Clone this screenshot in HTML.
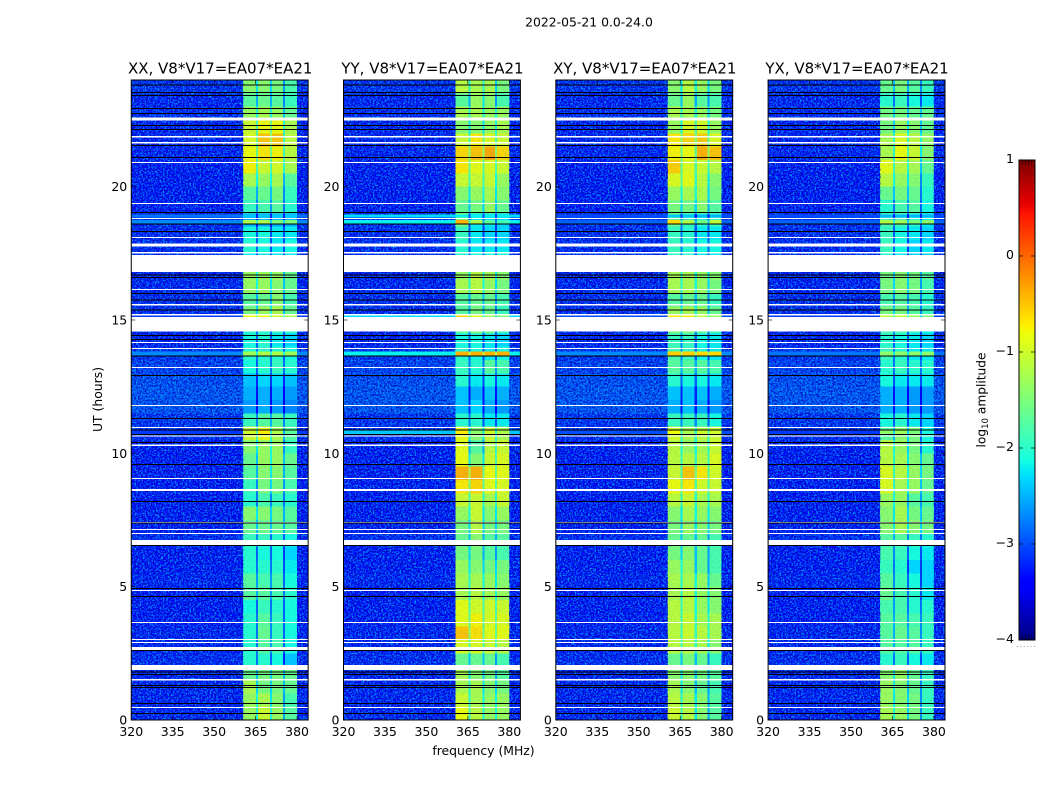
<!DOCTYPE html>
<html lang="en">
<head>
<meta charset="utf-8">
<title>2022-05-21 0.0-24.0</title>
<style>
html,body{margin:0;padding:0;background:#fff;width:1050px;height:800px;overflow:hidden}
svg{display:block}
text{font-family:"DejaVu Sans","Liberation Sans",sans-serif;fill:#000}
.tick{font-size:12.5px}
.title{font-size:15px}
</style>
</head>
<body>
<svg id="chart" xmlns="http://www.w3.org/2000/svg" width="1050" height="800" viewBox="0 0 1050 800">
<defs>
<filter id="speckle" x="0" y="0" width="100%" height="100%" color-interpolation-filters="sRGB">
<feTurbulence type="fractalNoise" baseFrequency="0.6" numOctaves="2" seed="4"/>
<feColorMatrix values="0 0 0 0 0  0 0 0 0 0.66  0 0 0 0 1  5.5 0 0 0 -2.5"/>
</filter>
<filter id="speckle-dark" x="0" y="0" width="100%" height="100%" color-interpolation-filters="sRGB">
<feTurbulence type="fractalNoise" baseFrequency="0.55" numOctaves="2" seed="11"/>
<feColorMatrix values="0 0 0 0 0  0 0 0 0 0  0 0 0 0 0.7  5.5 0 0 0 -2.5"/>
</filter>
</defs>
<text x="589" y="26.5" text-anchor="middle" font-size="12.4">2022-05-21 0.0-24.0</text>
<text x="483.5" y="755" text-anchor="middle" font-size="12.4">frequency (MHz)</text>
<text transform="translate(102 399.5) rotate(-90)" text-anchor="middle" font-size="12.4">UT (hours)</text>
<text transform="translate(985.5 400) rotate(-90)" text-anchor="middle" font-size="12.2">log<tspan font-size="8.6" dy="2.5">10</tspan><tspan dy="-2.5"> amplitude</tspan></text>
</svg>
<script>
// Chart data: log10 amplitude, time in hours (UT), frequency in MHz
const panelTitles = ['XX, V8*V17=EA07*EA21', 'YY, V8*V17=EA07*EA21', 'XY, V8*V17=EA07*EA21', 'YX, V8*V17=EA07*EA21'];
const xTickValues = [320, 335, 350, 365, 380];
const yTickValues = [0, 5, 10, 15, 20];
const colorbarTickValues = [1, 0, -1, -2, -3, -4];
const colorbarTickLabels = ['1', '0', '\u22121', '\u22122', '\u22123', '\u22124'];
const channelEdges = [320, 360.5, 365.2, 365.9, 370.2, 371, 374.9, 375.6, 380, 384];
const rowHours = 0.5;
const notchDrop = -0.8;

// One value per half-hour row, from 24 h down to 0 h
const backgroundLevels = [-3.2,-3.3,-3.25,-3.3,-3.3,-3.3,-3.35,-3.35,-3.35,-3.35,-3.25,-3.25,-3.25,-3.25,-3.3,-3.3,-3.25,-3.25,-3.3,-3.3,-3.2,-3.1,-3.0,-2.95,-2.95,-3.2,-3.25,-3.35,-3.35,-3.35,-3.35,-3.35,-3.35,-3.35,-3.25,-3.35,-3.35,-3.3,-3.35,-3.35,-3.35,-3.3,-3.3,-3.25,-3.3,-3.3,-3.3,-3.3];

const bandsXX = [[-1.4,-1.4,-1.5,-1.8],[-1.7,-1.6,-1.7,-1.9],[-1.3,-1.2,-1.3,-1.6],[-1.0,-0.8,-0.8,-1.2],[-0.9,-0.5,-0.5,-1.1],[-0.8,-0.7,-0.75,-1.1],[-0.75,-1.0,-0.95,-1.2],[-1.2,-1.3,-1.2,-1.7],[-1.7,-1.6,-1.5,-1.9],[-1.9,-1.8,-1.7,-2.0],[-2.5,-2.5,-2.5,-2.5],[-2.1,-2.1,-2.2,-2.2],[-2.0,-2.1,-2.2,-2.1],[-2.2,-2.2,-2.2,-2.2],[-1.3,-1.3,-1.3,-1.6],[-1.3,-1.3,-1.4,-1.6],[-1.7,-1.6,-1.4,-1.8],[-1.5,-1.3,-1.2,-1.6],[-2.0,-2.0,-2.0,-2.0],[-2.1,-2.0,-2.2,-2.3],[-2.0,-2.0,-2.0,-2.1],[-2.1,-2.0,-1.9,-2.0],[-2.4,-2.3,-2.3,-2.4],[-2.5,-2.5,-2.5,-2.6],[-2.6,-2.5,-2.6,-2.7],[-1.9,-1.7,-1.7,-1.9],[-1.0,-0.8,-1.2,-1.7],[-1.4,-1.3,-1.3,-1.9],[-1.6,-1.3,-1.3,-1.6],[-1.7,-1.4,-1.4,-1.7],[-1.9,-1.5,-1.5,-1.8],[-2.0,-1.8,-1.9,-2.0],[-1.4,-1.4,-1.5,-1.7],[-1.6,-1.6,-1.6,-1.7],[-1.9,-1.9,-2.0,-2.1],[-2.0,-2.1,-2.1,-2.3],[-2.0,-2.0,-2.0,-2.2],[-1.7,-1.8,-1.8,-2.1],[-1.7,-1.7,-1.8,-2.0],[-2.1,-1.9,-2.0,-2.1],[-2.0,-1.7,-1.9,-2.1],[-2.0,-1.6,-1.9,-2.1],[-2.0,-1.7,-1.8,-2.1],[-2.0,-2.0,-2.1,-2.4],[-1.6,-1.5,-1.5,-1.6],[-1.2,-1.5,-1.5,-1.6],[-1.3,-1.2,-1.4,-1.8],[-1.3,-1.0,-1.3,-1.7]];
const bandsYY = [[-1.1,-1.2,-1.2,-1.5],[-1.7,-1.3,-1.4,-1.8],[-1.2,-1.2,-1.3,-1.3],[-1.4,-1.4,-1.3,-1.2],[-1.0,-0.7,-0.9,-1.0],[-0.6,-0.5,-0.35,-0.6],[-0.7,-0.85,-0.9,-1.0],[-1.0,-1.0,-1.0,-1.3],[-1.4,-1.3,-1.2,-1.4],[-1.6,-1.5,-1.3,-1.6],[-1.5,-2.2,-2.2,-2.3],[-1.9,-2.2,-2.3,-2.3],[-2.0,-2.2,-2.2,-2.2],[-2.1,-2.1,-2.1,-2.1],[-1.3,-1.1,-1.2,-1.4],[-1.2,-1.1,-1.3,-1.5],[-1.7,-1.6,-1.6,-1.8],[-1.7,-1.5,-1.6,-1.9],[-1.7,-1.5,-1.6,-1.9],[-2.1,-2.1,-2.2,-2.3],[-2.0,-2.1,-2.2,-2.1],[-1.9,-2.0,-1.7,-1.8],[-2.0,-2.2,-2.1,-2.2],[-2.4,-2.5,-2.4,-2.5],[-2.4,-2.3,-2.5,-2.6],[-2.0,-2.0,-2.2,-2.2],[-0.8,-1.4,-1.0,-1.2],[-0.85,-1.7,-1.1,-1.0],[-0.8,-1.4,-1.0,-0.9],[-0.4,-0.4,-0.8,-0.85],[-0.7,-0.6,-0.85,-0.9],[-1.0,-1.0,-1.2,-1.0],[-1.3,-1.0,-1.4,-1.3],[-1.5,-1.1,-1.5,-1.5],[-1.6,-1.4,-1.7,-1.7],[-1.5,-1.5,-1.7,-1.8],[-1.3,-1.4,-1.5,-1.5],[-1.2,-1.2,-1.3,-1.4],[-1.2,-1.1,-1.2,-1.3],[-0.85,-0.95,-0.95,-1.0],[-0.85,-0.75,-0.9,-0.9],[-0.5,-0.65,-0.85,-0.85],[-0.9,-0.9,-1.0,-1.1],[-1.6,-1.6,-1.6,-1.8],[-1.2,-1.4,-1.5,-1.7],[-1.2,-1.2,-1.4,-1.5],[-1.0,-1.2,-1.3,-1.3],[-0.8,-1.1,-1.3,-1.3]];
const bandsXY = [[-1.4,-1.1,-1.3,-1.5],[-1.6,-1.3,-1.7,-1.8],[-1.2,-1.2,-1.3,-1.5],[-1.3,-0.9,-0.95,-1.3],[-0.7,-0.6,-0.55,-0.9],[-0.75,-0.8,-0.4,-0.5],[-0.55,-0.9,-1.0,-1.1],[-0.9,-0.85,-1.1,-1.4],[-1.3,-1.2,-1.2,-1.5],[-1.5,-1.5,-1.4,-1.7],[-1.6,-1.9,-2.0,-1.9],[-1.9,-2.0,-2.2,-2.2],[-1.9,-2.0,-2.1,-2.1],[-2.0,-2.0,-2.2,-2.2],[-1.2,-1.2,-1.3,-1.4],[-1.2,-1.2,-1.3,-1.5],[-1.7,-1.6,-1.6,-1.9],[-1.3,-1.2,-1.3,-1.6],[-1.5,-1.5,-1.7,-1.9],[-1.9,-1.9,-2.1,-2.2],[-1.8,-1.9,-2.1,-2.2],[-1.7,-1.7,-1.7,-1.8],[-2.0,-2.1,-2.1,-2.2],[-2.4,-2.4,-2.4,-2.5],[-2.5,-2.4,-2.5,-2.6],[-1.9,-1.9,-1.9,-2.1],[-0.95,-1.2,-1.1,-1.0],[-1.1,-1.3,-1.2,-1.0],[-1.1,-1.1,-1.1,-0.9],[-1.0,-0.5,-0.7,-0.95],[-0.8,-0.7,-0.95,-1.0],[-1.1,-1.0,-1.2,-1.2],[-1.4,-1.2,-1.3,-1.4],[-1.5,-1.3,-1.4,-1.5],[-1.6,-1.6,-1.6,-1.8],[-1.5,-1.4,-1.6,-1.8],[-1.3,-1.3,-1.6,-1.8],[-1.2,-1.2,-1.3,-1.6],[-1.2,-1.1,-1.3,-1.4],[-1.1,-1.1,-1.3,-1.4],[-1.1,-1.0,-1.2,-1.2],[-1.1,-1.0,-1.1,-1.2],[-1.1,-1.1,-1.2,-1.4],[-1.6,-1.5,-1.6,-1.9],[-1.4,-1.4,-1.5,-1.7],[-1.2,-1.4,-1.6,-1.8],[-1.1,-1.2,-1.4,-1.7],[-1.0,-1.1,-1.4,-1.7]];
const bandsYX = [[-1.6,-1.5,-1.7,-1.9],[-2.0,-1.9,-2.1,-2.2],[-1.5,-1.5,-1.6,-1.6],[-1.5,-1.3,-1.4,-1.6],[-1.2,-0.9,-1.1,-1.3],[-1.2,-0.8,-1.0,-1.4],[-0.85,-1.1,-1.2,-1.6],[-1.1,-1.3,-1.4,-1.9],[-1.6,-1.5,-1.6,-2.0],[-2.0,-1.8,-1.7,-2.1],[-1.8,-1.8,-2.0,-2.2],[-1.9,-2.1,-2.2,-2.3],[-1.9,-2.1,-2.3,-2.2],[-2.1,-2.2,-2.3,-2.3],[-1.5,-1.4,-1.5,-1.7],[-1.5,-1.4,-1.5,-1.8],[-1.8,-1.7,-1.8,-2.0],[-1.5,-1.5,-1.7,-1.9],[-1.8,-1.8,-2.0,-2.2],[-2.0,-2.1,-2.2,-2.3],[-1.9,-2.0,-2.2,-2.2],[-2.0,-1.9,-2.0,-2.0],[-2.1,-2.2,-2.2,-2.2],[-2.5,-2.5,-2.6,-2.6],[-2.5,-2.5,-2.6,-2.6],[-2.1,-2.0,-2.2,-2.3],[-1.7,-1.4,-1.5,-2.1],[-1.1,-1.3,-1.5,-2.0],[-1.1,-1.2,-1.4,-1.6],[-0.9,-1.1,-1.3,-1.5],[-0.9,-1.2,-1.3,-1.6],[-1.3,-1.3,-1.7,-1.8],[-1.4,-1.2,-1.5,-1.6],[-1.4,-1.2,-1.4,-1.5],[-1.7,-1.7,-1.9,-2.0],[-1.8,-1.9,-2.1,-2.2],[-1.9,-2.0,-2.3,-2.3],[-1.7,-1.9,-2.1,-2.3],[-1.6,-1.8,-2.0,-2.2],[-1.8,-1.8,-2.0,-2.0],[-1.7,-1.7,-1.8,-1.9],[-1.7,-1.6,-1.7,-1.9],[-1.7,-1.7,-1.7,-1.9],[-2.0,-1.9,-2.1,-2.2],[-1.4,-1.3,-1.6,-1.9],[-1.3,-1.4,-1.6,-1.9],[-1.3,-1.4,-1.5,-1.9],[-1.2,-1.3,-1.5,-1.9]];

// Short bursts: [start hour, end hour]; background level per panel; band levels per panel
const burstSpans = [[18.84,18.96],[18.6,18.75],[13.675,13.81],[15.11,15.2],[10.7,10.875]];
const burstBackground = [[-2.8,-2.3,-3.0,-3.0],[-2.7,-2.2,-2.9,-2.9],[-2.7,-2.2,-2.7,-2.8],[-3.1,-2.3,-3.0,-3.1],[-3.1,-2.4,-3.0,-3.1]];
const burstBandsXX = [[-2.4,-2.4,-2.4,-2.4],[-1.2,-1.2,-1.5,-1.5],[-1.3,-1.2,-1.2,-1.3],[-0.8,-0.8,-1.0,-1.2],[-1.0,-0.7,-1.2,-1.7]];
const burstBandsYY = [[-2.2,-2.2,-2.2,-2.2],[-0.4,-1.2,-1.7,-1.9],[-0.4,-0.4,-0.4,-0.4],[-0.6,-0.9,-1.3,-1.5],[-0.7,-1.4,-1.0,-1.2]];
const burstBandsXY = [[-2.4,-2.4,-2.5,-2.5],[-0.6,-1.2,-1.6,-1.1],[-0.55,-0.55,-0.6,-0.6],[-0.7,-0.7,-1.0,-1.3],[-0.8,-1.2,-1.0,-1.0]];
const burstBandsYX = [[-2.5,-2.5,-2.5,-2.5],[-1.2,-1.3,-1.5,-1.4],[-1.4,-1.4,-1.4,-1.4],[-1.1,-1.1,-1.3,-1.5],[-1.4,-1.3,-1.5,-2.1]];

// Flagged data: missing (white) spans and dead (black) scans, in hours
const whiteSpans = [[22.48,22.59],[17.75,17.875],[16.8,17.44],[14.56,15.11],[8.59,8.66],[6.56,6.75],[2.625,2.74],[1.88,2.07]];
const whiteLines = [21.875,21.65,20.91,19.375,18.81,18.1,17.525,16.15,15.575,15.2,14.16,13.94,13.225,11.8,10.975,10.65,10.31,9.06,7.41,7.15,7.0,4.86,3.66,3.025,2.91,1.51,0.475];
const blackLines = [23.81,23.525,23.425,22.94,22.75,22.29,22.15,21.54,21.09,19.025,18.6,18.325,16.69,16.59,16.0,15.75,15.375,14.41,14.275,13.65,12.925,11.31,10.875,10.7,10.4,9.59,8.2,7.39,6.55,4.925,4.64,2.6,1.8,1.71,1.29,1.21,0.625,0.24];

const panelBands = [bandsXX, bandsYY, bandsXY, bandsYX];
const panelBursts = [burstBandsXX, burstBandsYY, burstBandsXY, burstBandsYX];

const NS = 'http://www.w3.org/2000/svg';
const svg = document.getElementById('chart');
const panelLefts = [131.25, 343.5, 555.8, 768.1];
const panelWidth = 176.9;
const plotTop = 80, plotBottom = 720;
const xMin = 320, xMax = 384, tMin = 0, tMax = 24;
const cbX = 1019, cbW = 16, cbTop = 160, cbBottom = 640, vMin = -4, vMax = 1;

function lerpTable(t, tbl) {
  for (let i = 1; i < tbl.length; i++) {
    if (t <= tbl[i][0]) {
      const a = tbl[i - 1], b = tbl[i];
      return a[1] + (b[1] - a[1]) * (t - a[0]) / (b[0] - a[0]);
    }
  }
  return tbl[tbl.length - 1][1];
}
const jetR = [[0,0],[0.35,0],[0.66,1],[0.89,1],[1,0.5]];
const jetG = [[0,0],[0.125,0],[0.375,1],[0.64,1],[0.91,0],[1,0]];
const jetB = [[0,0.5],[0.11,1],[0.34,1],[0.65,0],[1,0]];
function colorOf(v) {
  const t = Math.min(1, Math.max(0, (v - vMin) / (vMax - vMin)));
  return 'rgb(' + Math.round(255 * lerpTable(t, jetR)) + ',' + Math.round(255 * lerpTable(t, jetG)) + ',' + Math.round(255 * lerpTable(t, jetB)) + ')';
}
function yScale(h) { return plotBottom - (h - tMin) / (tMax - tMin) * (plotBottom - plotTop); }
function cbScale(v) { return cbBottom - (v - vMin) / (vMax - vMin) * (cbBottom - cbTop); }

function make(tag, parent, attrs) {
  const el = document.createElementNS(NS, tag);
  for (const k in attrs) el.setAttribute(k, attrs[k]);
  parent.appendChild(el);
  return el;
}
function channelLevel(col, bands, bg) {
  if (col === 0 || col === 8) return bg;
  if (col % 2 === 1) return bands[(col - 1) / 2];
  return Math.min(bands[col / 2 - 1], bands[col / 2]) + notchDrop;
}

function drawPanel(p) {
  const left = panelLefts[p];
  const xScale = f => left + (f - xMin) / (xMax - xMin) * panelWidth;
  const group = make('g', svg, {});
  
  

  const clipId = 'clip-' + p;
  const clip = make('clipPath', group, { id: clipId });
  make('rect', clip, { x: left, y: plotTop, width: panelWidth, height: plotBottom - plotTop });
  const plot = make('g', group, { 'clip-path': 'url(#' + clipId + ')', 'shape-rendering': 'crispEdges' });

  // heatmap cells
  panelBands[p].forEach((bands, r) => {
    const top = tMax - r * rowHours;
    const bottom = top - rowHours;
    for (let c = 0; c < channelEdges.length - 1; c++) {
      const cell = make('rect', plot, {
        x: xScale(channelEdges[c]),
        y: yScale(top),
        width: xScale(channelEdges[c + 1]) - xScale(channelEdges[c]) + 0.5,
        height: yScale(bottom) - yScale(top) + 0.5,
        fill: colorOf(channelLevel(c, bands, backgroundLevels[r]))
      });
      
      
    }
  });

  // receiver noise texture
  [['speckle', 0.85, 0.07], ['speckle-dark', 0.7, 0.05]].forEach(layer => {
    [[0, 1, layer[1]], [1, 8, layer[2]], [8, 9, layer[1]]].forEach(seg => {
      const noise = make('rect', plot, {
        x: xScale(channelEdges[seg[0]]),
        y: plotTop,
        width: xScale(channelEdges[seg[1]]) - xScale(channelEdges[seg[0]]),
        height: plotBottom - plotTop,
        filter: 'url(#' + layer[0] + ')',
        opacity: seg[2]
      });
      
      
    });
  });

  // bursts
  burstSpans.forEach((span, b) => {
    for (let c = 0; c < channelEdges.length - 1; c++) {
      const cell = make('rect', plot, {
        x: xScale(channelEdges[c]),
        y: yScale(span[1]),
        width: xScale(channelEdges[c + 1]) - xScale(channelEdges[c]) + 0.5,
        height: yScale(span[0]) - yScale(span[1]),
        fill: colorOf(channelLevel(c, panelBursts[p][b], burstBackground[b][p]))
      });
      
      
    }
  });

  // flags
  whiteLines.forEach(h => {
    const line = make('rect', plot, { x: left, y: yScale(h) - 0.5, width: panelWidth, height: 1.2, fill: '#fff' });
    
    
  });
  blackLines.forEach(h => {
    const line = make('rect', plot, { x: left, y: yScale(h) - 0.5, width: panelWidth, height: 1, fill: '#000' });
    
    
  });
  whiteSpans.forEach(s => {
    const span = make('rect', plot, { x: left, y: yScale(s[1]), width: panelWidth, height: yScale(s[0]) - yScale(s[1]), fill: '#fff' });
    
    
  });

  // ticks and frame
  xTickValues.forEach(v => {
    const x = xScale(v);
    const t1 = make('line', group, { x1: x, x2: x, y1: plotBottom, y2: plotBottom - 4, stroke: '#000', 'stroke-width': 0.6 });
    
    
    const t2 = make('line', group, { x1: x, x2: x, y1: plotTop, y2: plotTop + 4, stroke: '#000', 'stroke-width': 0.6 });
    
    
    const label = make('text', group, { x: x, y: 736, 'text-anchor': 'middle', class: 'tick' });
    
    
    label.textContent = String(v);
  });
  yTickValues.forEach(v => {
    const y = yScale(v);
    const t1 = make('line', group, { x1: left, x2: left + 4, y1: y, y2: y, stroke: '#000', 'stroke-width': 0.6 });
    
    
    const t2 = make('line', group, { x1: left + panelWidth, x2: left + panelWidth - 4, y1: y, y2: y, stroke: '#000', 'stroke-width': 0.6 });
    
    
    const label = make('text', group, { x: left - 4, y: y + 4.5, 'text-anchor': 'end', class: 'tick' });
    
    
    label.textContent = String(v);
  });
  const frame = make('rect', group, { x: left, y: plotTop, width: panelWidth, height: plotBottom - plotTop, fill: 'none', stroke: '#000', 'stroke-width': 1 });
  
  
  const title = make('text', group, { x: left + panelWidth / 2 + 0.5, y: 73.5, 'text-anchor': 'middle', class: 'title' });
  
  
  title.textContent = panelTitles[p];
}
panelTitles.forEach((_, p) => drawPanel(p));

function drawColorbar() {
  const group = make('g', svg, {});
  
  
  const steps = 240;
  for (let i = 0; i < steps; i++) {
    const v0 = vMin + (vMax - vMin) * i / steps;
    const v1 = vMin + (vMax - vMin) * (i + 1) / steps;
    const seg = make('rect', group, { x: cbX, y: cbScale(v1), width: cbW, height: cbScale(v0) - cbScale(v1) + 0.5, fill: colorOf((v0 + v1) / 2), 'shape-rendering': 'crispEdges' });
    
    
  }
  colorbarTickValues.forEach((v, i) => {
    const y = cbScale(v);
    const t1 = make('line', group, { x1: cbX, x2: cbX + 4, y1: y, y2: y, stroke: '#000', 'stroke-width': 0.7 });
    
    
    const t2 = make('line', group, { x1: cbX + cbW, x2: cbX + cbW - 4, y1: y, y2: y, stroke: '#000', 'stroke-width': 0.7 });
    
    
    const label = make('text', group, { x: cbX - 5, y: y + 3, 'text-anchor': 'end', class: 'tick' });
    
    
    label.textContent = colorbarTickLabels[i];
  });
  for (let k = 1; k <= 4; k++) {
    const x = cbX + k * cbW / 5;
    const a = make('line', group, { x1: x, x2: x, y1: cbTop, y2: cbTop + 5, stroke: '#000', 'stroke-width': 0.6 });
    
    
    const b = make('line', group, { x1: x, x2: x, y1: cbBottom, y2: cbBottom - 5, stroke: '#000', 'stroke-width': 0.6 });
    
    
  }
  const frame = make('rect', group, { x: cbX, y: cbTop, width: cbW, height: cbBottom - cbTop, fill: 'none', stroke: '#000', 'stroke-width': 1 });
  
  
  const dots = make('line', group, { x1: cbX - 2, x2: cbX + cbW, y1: 646.5, y2: 646.5, stroke: '#999', 'stroke-width': 1, 'stroke-dasharray': '1 2.4' });
  
  
}
drawColorbar();
</script>
</body>
</html>
